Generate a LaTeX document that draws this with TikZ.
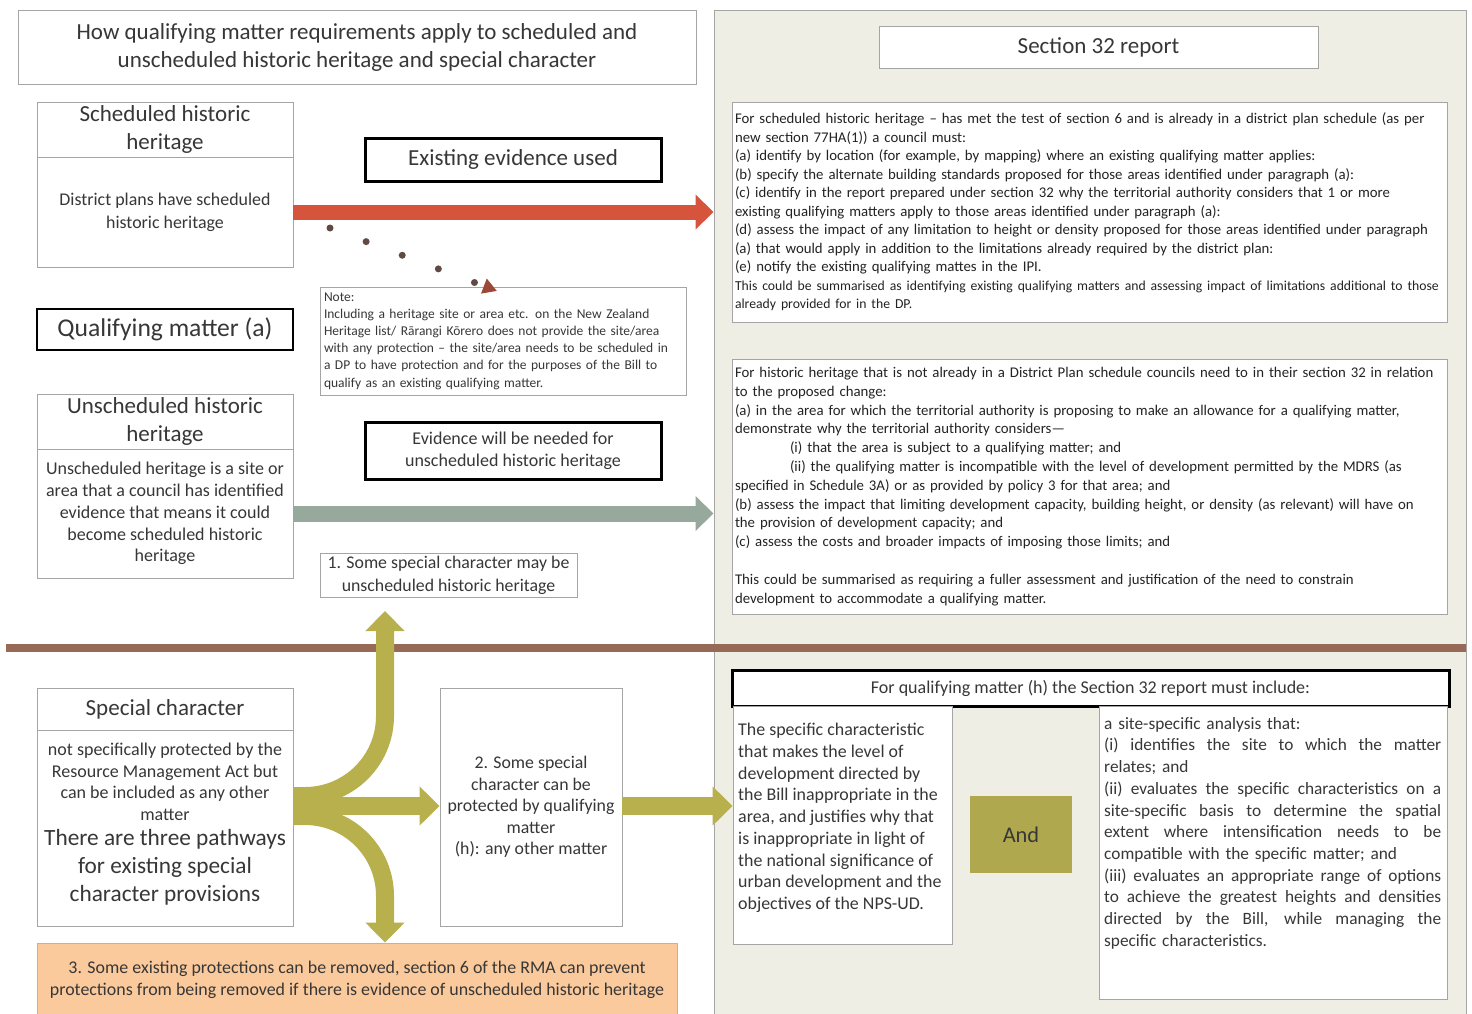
\documentclass[tikz,border=0pt]{standalone}
\usepackage{fontspec}
\setmainfont{Carlito}
\usepackage{xcolor}
\usetikzlibrary{arrows.meta}

\definecolor{textgray}{RGB}{55,55,55}
\definecolor{reporttext}{RGB}{35,35,35}
\definecolor{boxline}{RGB}{165,165,165}
\definecolor{panelfill}{RGB}{238,238,228}
\definecolor{bargbrown}{RGB}{150,106,86}
\definecolor{arrowred}{RGB}{214,84,60}
\definecolor{arrowgrey}{RGB}{151,168,156}
\definecolor{olive}{RGB}{184,176,76}
\definecolor{andolive}{RGB}{176,168,78}
\definecolor{orangefill}{RGB}{250,201,156}
\definecolor{orangeline}{RGB}{218,172,132}
\definecolor{dotbrown}{RGB}{96,74,68}
\definecolor{tipbrown}{RGB}{155,72,56}

\newcommand{\headsize}{\fontsize{23}{28}\selectfont}
\newcommand{\bodysize}{\fontsize{18}{21.8}\selectfont}
\newcommand{\reportsize}{\fontsize{14.8}{18.5}\selectfont}
\newcommand{\pathsize}{\fontsize{23.3}{28}\selectfont}
\newcommand{\fillline}[1]{\leavevmode\hbox to 337pt{\spaceskip=0.22em plus 1fil\xspaceskip=0.22em plus 1fil\relax #1}}

\tikzset{
  box/.style={draw=boxline, fill=white, line width=0.9pt, inner sep=3pt,
    align=center, text=textgray},
  keybox/.style={box, draw=black, line width=3pt},
  panel/.style={draw=boxline, fill=panelfill, line width=1pt},
  divider/.style={draw=bargbrown, line width=8pt},
  redarrow/.style={draw=arrowred, line width=15pt,
    -{Triangle[width=34pt,length=18pt]}},
  greyarrow/.style={draw=arrowgrey, line width=16pt,
    -{Triangle[width=34pt,length=18pt]}},
  olivearrow/.style={draw=olive, line width=18pt,
    -{Triangle[width=38pt,length=20pt]}},
  dotarrow/.style={draw=dotbrown, line width=7pt, line cap=round,
    dash pattern=on 0pt off 38.6pt,
    -{Triangle[color=tipbrown,width=15pt,length=14pt]}},
}

\begin{document}
\begin{tikzpicture}[x=1pt,y=-1pt]
  \useasboundingbox (0,0) rectangle (1472,1013);
  % right hand panel and the divider
  \node[panel, minimum width=752, minimum height=1012] (panel) at (1090,516) {};
  \draw[divider] (6,648) -- (1466,648);

  % left column
  \node[box, font=\headsize, minimum width=678, minimum height=74] (title) at (357,47)
    {How qualifying matter requirements apply to scheduled and\\unscheduled historic heritage and special character};
  \node[box, font=\headsize, minimum width=256, minimum height=55] (schedhead) at (165,129.5)
    {Scheduled historic\\heritage};
  \node[box, font=\fontsize{17.9}{23}\selectfont, minimum width=256, minimum height=110] (schedbody) at (165,212)
    {District plans have scheduled\\historic heritage};
  \node[keybox, font=\headsize, minimum width=296, minimum height=43] (existing) at (513,159.5)
    {Existing evidence used};
  \node[box, draw=black, line width=2pt, font=\fontsize{25.6}{28}\selectfont,
    minimum width=256, minimum height=41] (quala) at (165,329.5) {Qualifying matter (a)};
  \node[box, font=\fontsize{13.5}{17.2}\selectfont, align=left, text width=358,
    minimum width=366, minimum height=108] (note) at (503,341)
    {Note:\\
     Including a heritage site or area etc. on the New Zealand\\
     Heritage list/ Rārangi Kōrero does not provide the site/area\\
     with any protection – the site/area needs to be scheduled in\\
     a DP to have protection and for the purposes of the Bill to\\
     qualify as an existing qualifying matter.};
  \node[box, font=\headsize, minimum width=256, minimum height=55] (unschedhead) at (165,421.5)
    {Unscheduled historic\\heritage};
  \node[box, font=\bodysize, minimum width=256, minimum height=129] (unschedbody) at (165,513.5)
    {Unscheduled heritage is a site or\\area that a council has identified\\evidence that means it could\\become scheduled historic\\heritage};
  \node[keybox, font=\bodysize, minimum width=296, minimum height=57] (evidence) at (513,450.5)
    {Evidence will be needed for\\unscheduled historic heritage};
  \node[box, font=\fontsize{17.8}{22.5}\selectfont, minimum width=257, minimum height=43] (special1) at (448.5,575.5)
    {1. Some special character may be\\unscheduled historic heritage};
  \node[box, font=\headsize, minimum width=256, minimum height=42] (spechead) at (165,709)
    {Special character};
  \node[box, minimum width=256, minimum height=196] (specbody) at (165,828) {};
  \node[text=textgray, font=\bodysize, align=center, inner sep=0pt] (spectext) at (165,824)
    {not specifically protected by the\\Resource Management Act but\\can be included as any other\\matter\\[3pt]
     \pathsize There are three pathways\\[6.2pt]\pathsize for existing special\\[6.2pt]\pathsize character provisions};
  \node[box, font=\fontsize{17.8}{21.5}\selectfont, minimum width=182, minimum height=238] (protect) at (531,807)
    {2. Some special\\character can be\\protected by qualifying\\matter\\(h): any other matter};
  \node[box, draw=orangeline, fill=orangefill, font=\fontsize{17.9}{22}\selectfont,
    minimum width=640, minimum height=74] (orange) at (357,980)
    {3. Some existing protections can be removed, section 6 of the RMA can prevent\\protections from being removed if there is evidence of unscheduled historic heritage};

  % section 32 side
  \node[box, font=\headsize, minimum width=439, minimum height=42] (sec32) at (1098.5,47)
    {Section 32 report};
  \node[box, text=reporttext, font=\reportsize, align=left, text width=709, minimum width=715, minimum height=220] (reporta) at (1089.5,212)
    {For scheduled historic heritage – has met the test of section 6 and is already in a district plan schedule (as per\\
     new section 77HA(1)) a council must:\\
     (a) identify by location (for example, by mapping) where an existing qualifying matter applies:\\
     (b) specify the alternate building standards proposed for those areas identified under paragraph (a):\\
     (c) identify in the report prepared under section 32 why the territorial authority considers that 1 or more\\
     existing qualifying matters apply to those areas identified under paragraph (a):\\
     (d) assess the impact of any limitation to height or density proposed for those areas identified under paragraph\\
     (a) that would apply in addition to the limitations already required by the district plan:\\
     (e) notify the existing qualifying mattes in the IPI.\\
     \fontsize{13.7}{18.5}\selectfont This could be summarised as identifying existing qualifying matters and assessing impact of limitations additional to those\\
     \fontsize{13.7}{18.5}\selectfont already provided for in the DP.};
  \node[box, text=reporttext, font=\fontsize{14.8}{18.8}\selectfont, align=left, text width=709, minimum width=715, minimum height=255] (reportb) at (1089.5,486.5)
    {For historic heritage that is not already in a District Plan schedule councils need to in their section 32 in relation\\
     to the proposed change:\\
     (a) in the area for which the territorial authority is proposing to make an allowance for a qualifying matter,\\
     demonstrate why the territorial authority considers—\\
     \hspace*{55pt}(i) that the area is subject to a qualifying matter; and\\
     \hspace*{55pt}(ii) the qualifying matter is incompatible with the level of development permitted by the MDRS (as\\
     specified in Schedule 3A) or as provided by policy 3 for that area; and\\
     (b) assess the impact that limiting development capacity, building height, or density (as relevant) will have on\\
     the provision of development capacity; and\\
     (c) assess the costs and broader impacts of imposing those limits; and\\[18.8pt]
     This could be summarised as requiring a fuller assessment and justification of the need to constrain\\
     development to accommodate a qualifying matter.};
  \node[keybox, font=\fontsize{18}{20}\selectfont, minimum width=717, minimum height=36] (mustinc) at (1090.5,688)
    {For qualifying matter (h) the Section 32 report must include:};
  \node[box, minimum width=219, minimum height=238] (charbox) at (842.5,825) {};
  \node[text=textgray, font=\fontsize{17.9}{21.75}\selectfont, align=left, inner sep=0pt, anchor=north west]
    (chartext) at (738,723)
    {The specific characteristic\\that makes the level of\\development directed by\\the Bill inappropriate in the\\area, and justifies why that\\is inappropriate in light of\\the national significance of\\urban development and the\\objectives of the NPS-UD.};
  \node[fill=andolive, text=textgray, font=\fontsize{22.4}{28}\selectfont, minimum width=102, minimum height=77] (andbox) at (1021,834.5)
    {And};
  \node[box, minimum width=348, minimum height=293] (sitebox) at (1273,852.5) {};
  \node[text=textgray, font=\fontsize{17.3}{21.7}\selectfont, align=left, text width=337, inner sep=0pt, anchor=north west]
    (sitetext) at (1104,717)
    {a site-specific analysis that:\\
     \fillline{(i) identifies the site to which the matter}\\
     relates; and\\
     \fillline{(ii) evaluates the specific characteristics on a}\\
     \fillline{site-specific basis to determine the spatial}\\
     \fillline{extent where intensification needs to be}\\
     compatible with the specific matter; and\\
     \fillline{(iii) evaluates an appropriate range of options}\\
     \fillline{to achieve the greatest heights and densities}\\
     \fillline{directed by the Bill, while managing the}\\
     specific characteristics.};

  % connectors
  \draw[redarrow] (schedbody.east) -- (schedbody.east -| panel.west);
  \draw[greyarrow] (unschedbody.east) -- (unschedbody.east -| panel.west);
  \coordinate (dotstart) at (330,228);
  \coordinate (dotend) at (497,291);
  \draw[dotarrow] (dotstart) -- (dotend);
  \coordinate (fork) at (293,806);
  \coordinate (forkup) at (293,796);
  \coordinate (forkdown) at (293,816);
  \coordinate (uptip) at (385,611);
  \draw[olivearrow, rounded corners=80] (forkup) -| (uptip);
  \draw[olivearrow, rounded corners=80] (forkdown) -| (orange.north -| uptip);
  \draw[olivearrow] (fork) -- (fork -| protect.west);
  \draw[olivearrow] (fork -| protect.east) -- (fork -| charbox.west);
\end{tikzpicture}
\end{document}
